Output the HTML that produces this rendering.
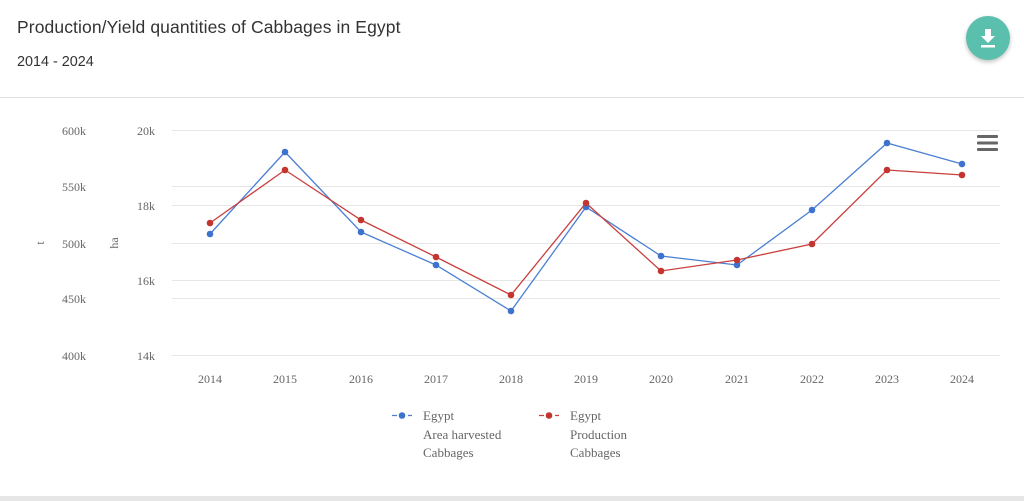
<!DOCTYPE html>
<html><head><meta charset="utf-8"><style>
body{margin:0;width:1024px;height:501px;background:#fff;overflow:hidden;position:relative;font-family:"Liberation Sans",sans-serif}
.t{position:absolute;left:17px;top:17px;font-size:17.5px;color:#333;letter-spacing:0.1px}
.s{position:absolute;left:17px;top:54px;font-size:14.4px;color:#333}
.sep{position:absolute;left:0;top:97px;width:1024px;height:1px;background:#e3e3e3}
.bot{position:absolute;left:0;top:496px;width:1024px;height:5px;background:#e6e6e6}
.btn{position:absolute;left:966px;top:16px;width:44px;height:44px;border-radius:50%;background:#5bbfae;box-shadow:0 2px 4px rgba(0,0,0,.25)}
</style></head><body>
<div class="t">Production/Yield quantities of Cabbages in Egypt</div>
<div class="s">2014 - 2024</div>
<div class="sep"></div>
<div class="btn"><svg width="44" height="44"><path d="M19 13h6v7h4l-7 7-7-7h4z" fill="#fff"/><rect x="15" y="29" width="14" height="2.5" fill="#fff"/></svg></div>
<svg width="1024" height="501" style="position:absolute;left:0;top:0" font-family="Liberation Serif, serif" font-size="12" fill="#666">
<g stroke="#e6e6e6" stroke-width="1">
<line x1="172" x2="1000" y1="130.5" y2="130.5"/><line x1="172" x2="1000" y1="186.5" y2="186.5"/><line x1="172" x2="1000" y1="205.5" y2="205.5"/><line x1="172" x2="1000" y1="243.5" y2="243.5"/><line x1="172" x2="1000" y1="280.5" y2="280.5"/><line x1="172" x2="1000" y1="298.5" y2="298.5"/><line x1="172" x2="1000" y1="355.5" y2="355.5"/>
</g>
<g text-anchor="end"><text x="86" y="135">600k</text><text x="86" y="191">550k</text><text x="86" y="248">500k</text><text x="86" y="303">450k</text><text x="86" y="360">400k</text>
<text x="155" y="135">20k</text><text x="155" y="210">18k</text><text x="155" y="285">16k</text><text x="155" y="360">14k</text></g>
<text transform="translate(44,243) rotate(-90)" text-anchor="middle">t</text>
<text transform="translate(118,243) rotate(-90)" text-anchor="middle">ha</text>
<g text-anchor="middle"><text x="210" y="383">2014</text><text x="285" y="383">2015</text><text x="361" y="383">2016</text><text x="436" y="383">2017</text><text x="511" y="383">2018</text><text x="586" y="383">2019</text><text x="661" y="383">2020</text><text x="737" y="383">2021</text><text x="812" y="383">2022</text><text x="887" y="383">2023</text><text x="962" y="383">2024</text></g>
<polyline fill="none" stroke="#4a7fd4" stroke-width="1.3" points="210,234 285,152 361,232 436,265 511,311 586,207 661,256 737,265 812,210 887,143 962,164"/>
<polyline fill="none" stroke="#c9403d" stroke-width="1.3" points="210,223 285,170 361,220 436,257 511,295 586,203 661,271 737,260 812,244 887,170 962,175"/>
<g fill="#3d73cf"><circle cx="210" cy="234" r="3.3"/><circle cx="285" cy="152" r="3.3"/><circle cx="361" cy="232" r="3.3"/><circle cx="436" cy="265" r="3.3"/><circle cx="511" cy="311" r="3.3"/><circle cx="586" cy="207" r="3.3"/><circle cx="661" cy="256" r="3.3"/><circle cx="737" cy="265" r="3.3"/><circle cx="812" cy="210" r="3.3"/><circle cx="887" cy="143" r="3.3"/><circle cx="962" cy="164" r="3.3"/></g>
<g fill="#c43530"><circle cx="210" cy="223" r="3.3"/><circle cx="285" cy="170" r="3.3"/><circle cx="361" cy="220" r="3.3"/><circle cx="436" cy="257" r="3.3"/><circle cx="511" cy="295" r="3.3"/><circle cx="586" cy="203" r="3.3"/><circle cx="661" cy="271" r="3.3"/><circle cx="737" cy="260" r="3.3"/><circle cx="812" cy="244" r="3.3"/><circle cx="887" cy="170" r="3.3"/><circle cx="962" cy="175" r="3.3"/></g>
<g fill="#666"><rect x="977" y="135" width="21" height="3" rx="1"/><rect x="977" y="141.5" width="21" height="3" rx="1"/><rect x="977" y="148" width="21" height="3" rx="1"/></g>
<line x1="392" x2="412" y1="415.5" y2="415.5" stroke="#4a7fd4" stroke-width="1.3" stroke-dasharray="5,3"/><circle cx="402" cy="415.5" r="3.3" fill="#3d73cf"/>
<line x1="539" x2="559" y1="415.5" y2="415.5" stroke="#c9403d" stroke-width="1.3" stroke-dasharray="5,3"/><circle cx="549" cy="415.5" r="3.3" fill="#c43530"/>
<g font-size="13" fill="#666"><text x="423" y="420">Egypt</text><text x="423" y="439">Area harvested</text><text x="423" y="457">Cabbages</text>
<text x="570" y="420">Egypt</text><text x="570" y="439">Production</text><text x="570" y="457">Cabbages</text></g>
</svg>
<div class="bot"></div>
</body></html>
